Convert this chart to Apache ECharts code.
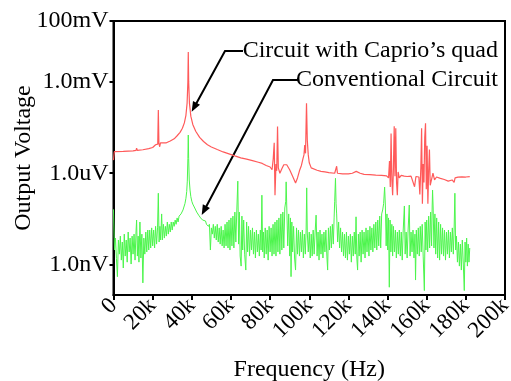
<!DOCTYPE html>
<html>
<head>
<meta charset="utf-8">
<script src="https://cdn.jsdelivr.net/npm/echarts@6/dist/echarts.min.js"></script>
<style>
  html, body { margin: 0; padding: 0; background: #fff; }
  #chart { width: 511px; height: 381px; }
</style>
</head>
<body>
<div id="chart"></div>
<script>
// frequency in kHz, voltage in V
const xTicks = [0, 20, 40, 60, 80, 100, 120, 140, 160, 180, 200];
const yTickVals = [1e-9, 1e-6, 1e-3, 1e-1];
const yTickLabels = ['1.0nV', '1.0uV', '1.0mV', '100mV'];

// Circuit with Caprio's quad
const redData = [
  [0, 2.7e-6], [0.4, 5.1e-6], [5, 5.2e-6], [10, 5.4e-6], [11.5, 5.6e-6], [11.8, 6.6e-6], [12.2, 5.6e-6],
  [15, 5.9e-6], [18, 6.4e-6], [20, 7.0e-6], [21, 7.4e-6], [21.5, 8.6e-6], [22, 7.6e-6], [22.6, 9.0e-6],
  [22.9, 1.2e-4], [23.2, 9.5e-6], [23.6, 7.4e-6], [24, 1.0e-5], [25, 9.6e-6], [27, 1.0e-5], [29, 1.15e-5],
  [31, 1.35e-5], [32.5, 1.7e-5], [34, 2.2e-5], [35.2, 3.0e-5], [36.2, 4.5e-5], [37, 8.0e-5], [37.6, 2.0e-4],
  [38, 1.0e-3], [38.2, 9.5e-3], [38.4, 1.0e-3], [38.8, 2.0e-4], [39.5, 7.5e-5], [40.5, 4.0e-5], [42, 2.4e-5],
  [44, 1.5e-5], [46, 1.1e-5], [48, 8.6e-6], [50, 7.3e-6], [53, 6.0e-6], [56, 5.0e-6], [59, 4.3e-6],
  [62, 3.7e-6], [65, 3.2e-6], [68, 2.9e-6], [71, 2.6e-6], [74, 2.3e-6], [76, 2.1e-6], [78, 1.8e-6],
  [80, 1.6e-6], [81, 1.3e-6], [81.6, 3.0e-6], [82.1, 1.0e-5], [82.5, 1.9e-7], [83, 2.0e-6], [83.4, 1.2e-6],
  [83.8, 3.4e-5], [84.2, 1.5e-6], [85, 1.0e-6], [86, 1.4e-6], [87, 1.9e-6], [88.5, 1.9e-6], [90, 1.3e-6],
  [91.5, 8.0e-7], [93, 4.8e-7], [94, 7.0e-7], [95, 1.2e-6], [96, 1.8e-6], [96.8, 3.0e-6], [97.3, 4.0e-6],
  [97.7, 8.5e-6], [98.1, 4.5e-6], [98.6, 2.0e-4], [99, 1.2e-5], [99.5, 4.0e-6], [100, 2.2e-6], [101, 1.5e-6],
  [102, 1.3e-6], [104, 1.25e-6], [106, 1.15e-6], [108, 1.1e-6], [110, 1.05e-6], [113, 1.0e-6], [113.6, 1.0e-6],
  [114, 1.7e-6], [114.4, 1.0e-6], [117, 9.5e-7], [120, 9.5e-7], [122, 1.0e-6], [124, 1.15e-6], [126, 1.0e-6],
  [128, 9.2e-7], [131, 9.0e-7], [134, 8.7e-7], [137, 8.5e-7], [139.5, 8.2e-7], [140.5, 7.0e-7], [141, 2.5e-6],
  [141.4, 3.5e-7], [141.8, 2.0e-5], [142.2, 6.0e-7], [142.6, 1.9e-7], [143, 1.5e-6], [143.4, 3.5e-5],
  [143.8, 8.0e-7], [144.2, 3.0e-5], [144.6, 5.0e-7], [145, 1.9e-7], [145.4, 1.1e-6], [146, 7.0e-7],
  [147, 8.5e-7], [148.5, 8.0e-7], [150, 7.8e-7], [152, 8.0e-7], [153.8, 3.6e-7], [154.5, 7.8e-7],
  [156, 7.5e-7], [156.5, 2.0e-7], [157, 1.5e-6], [157.4, 3.0e-5], [157.8, 1.0e-7], [158.2, 2.0e-6],
  [158.6, 5.0e-7], [159, 1.5e-5], [159.4, 4.4e-5], [159.8, 3.0e-7], [160.2, 8.0e-6], [160.6, 1.0e-7],
  [161, 1.2e-6], [161.4, 6.0e-6], [161.8, 4.0e-7], [162.5, 3.6e-7], [163.2, 1.0e-6], [164, 6.0e-7],
  [165, 7.5e-7], [167, 6.8e-7], [169, 6.2e-7], [171, 5.5e-7], [172, 5.2e-7], [173, 6.0e-7], [174, 5.0e-7],
  [174.5, 7.0e-7], [176, 7.4e-7], [178, 7.6e-7], [180, 7.5e-7], [182, 7.7e-7]
];

// Conventional Circuit
const greenData = [
  [0, 6.5e-8], [0.5, 3.0e-9], [1, 7.4e-9], [1.5, 1.6e-9], [2, 4.0e-10], [2.5, 6.4e-9], [3, 2.2e-9], [3.5, 8.6e-9],
  [4, 1.4e-9], [4.5, 5.5e-9], [5, 7.7e-10], [5.5, 1.0e-8], [6, 1.9e-9], [6.5, 6.4e-9], [7, 1.2e-9], [7.5, 1.17e-8],
  [8, 2.6e-9], [8.5, 7.4e-9], [9, 1.04e-9], [9.5, 8.6e-9], [10, 2.2e-9], [10.5, 1.0e-8], [11, 1.4e-9], [11.5, 1.17e-8],
  [11.8, 2.9e-8], [12.2, 1.9e-9], [12.6, 8.6e-9], [13, 1.2e-9], [13.5, 2.5e-8], [14, 1.64e-9], [14.5, 1.0e-8],
  [15, 2.5e-10], [15.5, 7.4e-9], [16, 2.2e-9], [16.5, 1.17e-8], [17, 2.6e-9], [17.5, 1.36e-8], [18, 3.0e-9],
  [18.5, 1.36e-8], [19, 3.5e-9], [19.5, 1.6e-8], [20, 4.1e-9], [20.5, 1.36e-8], [21, 3.5e-9], [21.5, 1.8e-8],
  [22, 4.7e-9], [22.5, 1.6e-8], [22.9, 2.2e-7], [23.3, 5.5e-9], [23.7, 1.8e-8], [24.1, 6.4e-9], [24.6, 4.6e-8],
  [25, 6.4e-9], [25.5, 2.1e-8], [26, 7.4e-9], [26.5, 1.8e-8], [27, 8.6e-9], [27.5, 2.5e-8], [28, 1.0e-8],
  [28.5, 2.1e-8], [29, 1.17e-8], [29.5, 2.5e-8], [30, 1.36e-8], [30.5, 2.5e-8], [31, 1.8e-8], [31.5, 2.9e-8],
  [32, 2.1e-8], [32.5, 3.4e-8], [33, 2.5e-8], [33.5, 3.9e-8], [34, 3.4e-8], [34.5, 4.6e-8], [35, 4.6e-8],
  [35.5, 6.2e-8], [36, 7.2e-8], [36.5, 1.0e-7], [37, 1.5e-7], [37.4, 2.5e-7], [37.7, 5.5e-7], [38, 3.0e-6],
  [38.2, 1.8e-5], [38.4, 3.0e-6], [38.7, 6.0e-7], [39.1, 2.8e-7], [39.5, 1.7e-7], [40, 1.2e-7], [40.5, 9.7e-8],
  [41, 8.4e-8], [41.5, 7.2e-8], [42, 6.2e-8], [42.5, 5.3e-8], [43, 4.6e-8], [43.5, 4.2e-8], [44, 3.9e-8],
  [44.5, 3.4e-8], [45, 3.6e-8], [45.5, 2.9e-8], [46, 3.1e-8], [46.5, 2.5e-8], [47, 2.7e-8], [47.5, 2.1e-8],
  [48, 2.3e-8], [48.5, 1.8e-8], [49, 2.1e-8], [49.5, 3.0e-9], [50, 1.6e-8],
  [50.5, 1.0e-8], [51, 2.1e-8], [51.5, 7.4e-9], [52, 1.8e-8], [52.5, 6.4e-9], [53, 2.1e-8], [53.5, 5.5e-9],
  [54, 1.6e-8], [54.5, 4.7e-9], [55, 1.8e-8], [55.5, 4.1e-9], [56, 1.36e-8], [56.5, 3.5e-9], [57, 2.1e-8],
  [57.5, 4.1e-9], [58, 2.5e-8], [58.5, 3.5e-9], [59, 2.9e-8], [59.5, 3.0e-9], [60, 3.4e-8], [60.5, 4.1e-9],
  [61, 3.9e-8], [61.5, 3.5e-9], [62, 5.3e-8], [62.5, 5.5e-9], [63, 6.2e-8], [63.5, 5.5e-7], [63.9, 4.7e-9],
  [64.3, 5.3e-8], [64.7, 1.9e-9], [65.2, 8.9e-10], [65.6, 3.9e-8], [66, 3.0e-9], [66.5, 2.9e-8], [67, 2.2e-9],
  [67.6, 6.6e-10], [68, 2.5e-8], [68.5, 2.6e-9], [69, 1.8e-8], [69.5, 1.9e-9], [70, 1.36e-8], [70.5, 3.0e-9],
  [71, 1.6e-8], [71.5, 2.2e-9], [72, 1.17e-8], [72.5, 1.64e-9], [73, 1.36e-8], [73.5, 2.6e-9], [74, 1.0e-8],
  [74.5, 1.9e-9], [75, 1.36e-8], [75.4, 3.0e-9], [75.8, 1.9e-7], [76.2, 2.6e-9], [76.6, 1.17e-8], [77, 1.64e-9],
  [77.5, 1.6e-8], [78, 2.2e-9], [78.5, 1.36e-8], [79, 1.4e-9], [79.5, 1.8e-8], [80, 2.6e-9], [80.5, 1.6e-8],
  [81, 1.9e-9], [81.5, 2.1e-8], [82, 2.2e-9], [82.5, 2.5e-8], [83, 1.9e-9], [83.5, 2.9e-8], [84, 2.6e-9],
  [84.5, 3.4e-8], [85, 2.2e-9], [85.5, 4.6e-8], [86, 3.0e-9], [86.5, 5.3e-8], [87, 3.5e-9], [87.5, 7.2e-8],
  [88, 1.2e-7], [88.2, 5.2e-7], [88.5, 8.4e-8], [89, 4.1e-9], [89.5, 4.6e-8], [90, 1.9e-9], [90.4, 3.4e-8],
  [90.7, 4.0e-10], [91.1, 2.5e-8], [91.5, 2.6e-9], [92, 1.8e-8], [92.5, 1.64e-9], [93, 6.6e-10], [93.5, 1.6e-8],
  [94, 2.2e-9], [94.5, 1.36e-8], [95, 1.9e-9], [95.5, 1.17e-8], [96, 2.6e-9], [96.5, 1.36e-8], [97, 1.64e-9],
  [97.5, 1.0e-8], [98, 2.2e-9], [98.4, 1.36e-8], [98.7, 3.3e-7], [99, 1.17e-8], [99.5, 2.6e-9], [100, 1.17e-8],
  [100.5, 1.64e-9], [101, 1.0e-8], [101.5, 1.9e-9], [102, 1.36e-8], [102.5, 2.2e-9], [103, 1.17e-8],
  [103.5, 4.2e-8], [104, 1.9e-9], [104.5, 1.17e-8], [105, 1.4e-9], [105.5, 1.36e-8], [106, 2.2e-9],
  [106.5, 1.0e-8], [107, 1.64e-9], [107.5, 1.17e-8], [108, 2.6e-9], [108.5, 1.36e-8], [109, 1.9e-9],
  [109.4, 6.6e-10], [109.8, 1.6e-8], [110.3, 3.0e-9], [110.8, 1.8e-8], [111.3, 3.5e-9], [111.8, 2.1e-8],
  [112.3, 4.7e-9], [112.7, 3.4e-8], [113, 1.2e-7], [113.4, 6.8e-7], [113.7, 1.0e-7], [114, 4.6e-8],
  [114.5, 5.5e-9], [115, 2.5e-8], [115.5, 3.5e-9], [116, 1.6e-8], [116.5, 2.6e-9], [117, 1.17e-8],
  [117.5, 1.9e-9], [118, 1.0e-8], [118.5, 1.64e-9], [119, 1.17e-8], [119.5, 1.4e-9], [120, 8.6e-9],
  [120.5, 2.2e-9], [121, 1.0e-8], [121.5, 1.2e-9], [122, 8.6e-9], [122.5, 1.9e-9], [123, 1.17e-8],
  [123.5, 2.2e-9], [123.9, 3.7e-8], [124.3, 1.64e-9], [124.7, 6.6e-10], [125.1, 1.0e-8], [125.5, 1.9e-9],
  [126, 1.17e-8], [126.5, 1.2e-9], [127, 1.36e-8], [127.5, 2.2e-9], [128, 1.17e-8], [128.5, 1.64e-9],
  [129, 1.6e-8], [129.5, 2.6e-9], [130, 1.36e-8], [130.5, 1.9e-9], [131, 1.8e-8], [131.5, 3.0e-9], [132, 1.6e-8],
  [132.5, 2.6e-9], [133, 2.1e-8], [133.5, 3.5e-9], [134, 2.5e-8], [134.5, 3.0e-9], [135, 2.9e-8], [135.5, 4.1e-9],
  [136, 3.9e-8], [136.5, 3.5e-9], [137, 4.6e-8], [137.5, 6.2e-8], [138, 1.0e-7], [138.5, 3.5e-7], [138.9, 8.4e-8],
  [139.3, 4.1e-9], [139.7, 4.6e-8], [140.1, 3.0e-9], [140.5, 3.4e-8], [140.9, 1.8e-10], [141.3, 2.9e-8],
  [141.7, 2.6e-9], [142.2, 2.1e-8], [142.6, 1.9e-9], [143, 1.8e-8], [143.5, 2.6e-9], [144, 1.36e-8],
  [144.5, 1.64e-9], [145, 1.17e-8], [145.5, 2.2e-9], [146, 1.36e-8], [146.5, 1.9e-9], [147, 1.17e-8],
  [147.5, 1.4e-9], [148, 1.36e-8], [148.6, 8.4e-8], [149, 2.2e-9], [149.5, 1.17e-8], [150, 1.64e-9],
  [150.5, 1.36e-8], [151.1, 9.0e-8], [151.5, 1.9e-9], [152, 1.17e-8], [152.5, 2.6e-9], [153, 1.36e-8],
  [153.5, 1.64e-9], [154, 1.0e-8], [154.3, 3.1e-10], [154.7, 1.36e-8], [155.2, 2.2e-9], [155.7, 1.6e-8],
  [156.2, 1.9e-9], [156.7, 1.8e-8], [157.2, 2.6e-9], [157.7, 2.1e-8], [158.2, 1.9e-9], [158.8, 1.4e-10],
  [159.2, 2.5e-8], [159.6, 3.0e-9], [160, 2.9e-8], [160.5, 2.6e-9], [161, 3.9e-8], [161.5, 3.5e-9],
  [162, 5.3e-8], [162.5, 4.1e-9], [162.8, 8.4e-8], [163, 2.8e-7], [163.3, 7.2e-8], [163.7, 3.5e-9],
  [164.2, 4.6e-8], [164.6, 2.2e-9], [165.1, 3.4e-8], [165.6, 1.64e-9], [166.1, 2.5e-8], [166.6, 1.4e-9],
  [167.1, 2.1e-8], [167.6, 2.2e-9], [168.1, 1.6e-8], [168.6, 1.9e-9], [169.1, 1.36e-8], [169.6, 1.4e-9],
  [170.1, 1.17e-8], [170.6, 2.2e-9], [171.1, 1.36e-8], [171.6, 1.64e-9], [172.1, 1.17e-8], [172.6, 2.6e-9],
  [173.1, 1.6e-8], [173.6, 2.2e-9], [174, 1.36e-8], [174.4, 2.2e-7], [174.8, 3.0e-9], [175.2, 8.6e-9],
  [175.7, 1.2e-9], [176.2, 5.5e-9], [176.7, 8.9e-10], [177.2, 4.7e-9], [177.7, 6.6e-10], [178.2, 6.4e-9],
  [178.7, 1.04e-9], [179.2, 1.4e-10], [179.6, 5.5e-9], [180, 1.2e-9], [180.4, 7.4e-9], [180.8, 8.9e-10],
  [181.2, 4.7e-9], [181.6, 1.2e-9], [182, 3.5e-9]
];

const serif = '"Liberation Serif", "Times New Roman", serif';
const chart = echarts.init(document.getElementById('chart'));

function yLabel(v) {
  for (let i = 0; i < yTickVals.length; i++) {
    if (Math.abs(Math.log10(v) - Math.log10(yTickVals[i])) < 0.01) return yTickLabels[i];
  }
  return '';
}

// small filled triangle for the callout arrows
function arrowHead(tip, from, len, half) {
  const dx = tip[0] - from[0], dy = tip[1] - from[1];
  const d = Math.sqrt(dx * dx + dy * dy);
  const ux = dx / d, uy = dy / d;
  const bx = tip[0] - ux * len, by = tip[1] - uy * len;
  return [tip, [bx - uy * half, by + ux * half], [bx + uy * half, by - ux * half]];
}

const option = {
  animation: false,
  backgroundColor: '#fff',
  grid: {
    left: 113.5, right: 6, top: 21, bottom: 86,
    outerBoundsMode: 'none',
    containLabel: false,
    show: true, borderColor: '#000', borderWidth: 2
  },
  xAxis: {
    type: 'value',
    min: 0, max: 200, interval: 20,
    name: 'Frequency (Hz)',
    nameLocation: 'middle',
    nameGap: 63,
    nameTextStyle: { fontFamily: serif, fontSize: 24, color: '#000' },
    axisLine: { show: true, lineStyle: { color: '#000', width: 2 } },
    axisTick: { show: true, length: 5, lineStyle: { color: '#000', width: 2 } },
    axisLabel: {
      rotate: 45, margin: 7,
      fontFamily: serif, fontSize: 23, color: '#000',
      formatter: v => v === 0 ? '0' : v + 'k',
      customValues: xTicks
    },
    splitLine: { show: false }
  },
  yAxis: {
    type: 'log',
    logBase: 10,
    min: 1e-10, max: 1e-1,
    name: 'Output Voltage',
    nameLocation: 'middle',
    nameGap: 78,
    nameMoveOverlap: false,
    nameTextStyle: { fontFamily: serif, fontSize: 24, color: '#000' },
    axisLine: { show: true, lineStyle: { color: '#000', width: 2 } },
    axisTick: { show: true, length: 4, lineStyle: { color: '#000', width: 2 }, customValues: yTickVals },
    axisLabel: {
      margin: 5,
      fontFamily: serif, fontSize: 24, color: '#000',
      formatter: yLabel,
      customValues: yTickVals
    },
    splitLine: { show: false },
    minorTick: { show: false }
  },
  series: [
    {
      name: "Circuit with Caprio's quad",
      type: 'line',
      data: redData,
      showSymbol: false,
      lineStyle: { color: '#ff5a5a', width: 1.2 },
      z: 3
    },
    {
      name: 'Conventional Circuit',
      type: 'line',
      data: greenData,
      showSymbol: false,
      lineStyle: { color: '#4cf54c', width: 1 },
      z: 2
    }
  ],
  graphic: [
    { type: 'text', style: { text: "Circuit with Caprio\u2019s quad", x: 498, y: 51, textAlign: 'right', textVerticalAlign: 'middle', font: '24px ' + serif, fill: '#000' } },
    { type: 'text', style: { text: 'Conventional Circuit', x: 498, y: 80, textAlign: 'right', textVerticalAlign: 'middle', font: '24px ' + serif, fill: '#000' } },
    { type: 'polyline', shape: { points: [[243, 51], [225, 51], [196, 104]] }, style: { stroke: '#000', lineWidth: 2, fill: null } },
    { type: 'polygon', shape: { points: arrowHead([191.7, 111.7], [225, 51], 10, 4) }, style: { fill: '#000' } },
    { type: 'polyline', shape: { points: [[298, 80], [273, 80], [206, 207]] }, style: { stroke: '#000', lineWidth: 2, fill: null } },
    { type: 'polygon', shape: { points: arrowHead([201.7, 215], [273, 80], 10, 4) }, style: { fill: '#000' } }
  ]
};

chart.setOption(option);
</script>
</body>
</html>
